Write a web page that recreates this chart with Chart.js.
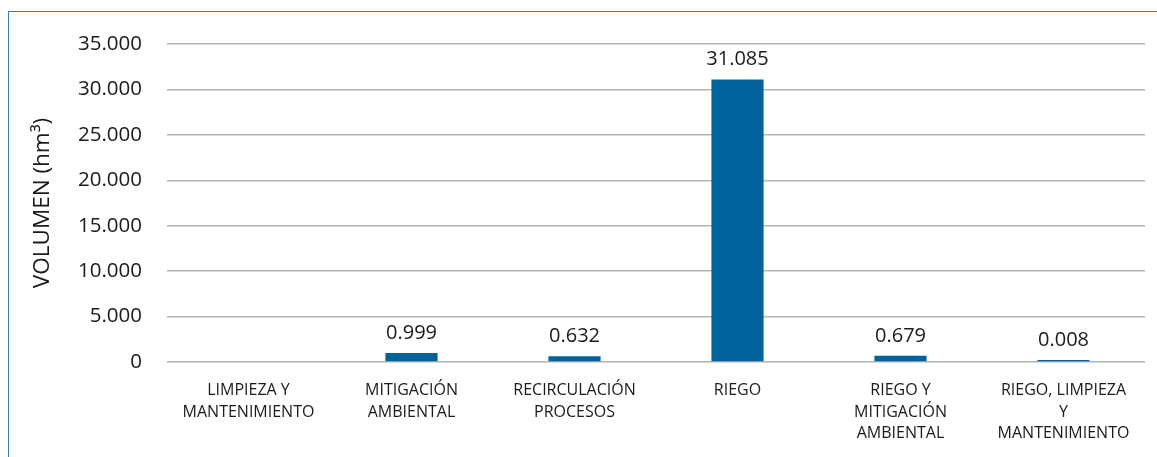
<!DOCTYPE html>
<html><head><meta charset="utf-8">
<script src="https://cdn.jsdelivr.net/npm/chart.js@4.4.0/dist/chart.umd.min.js"></script>
<style>
html,body{margin:0;padding:0;background:#fff;overflow:hidden;}
#wrap{position:absolute;left:0;top:0;width:1157px;height:457px;}
#frame{position:absolute;left:8px;top:11px;width:1200px;height:500px;border:1.5px solid #3b7db5;box-sizing:border-box;pointer-events:none;}
</style></head>
<body>
<div id="wrap"><canvas id="c" width="1157" height="457"></canvas></div>
<div id="frame"></div>
<script>
const categories = [
  ["LIMPIEZA Y","MANTENIMIENTO"],
  ["MITIGACIÓN","AMBIENTAL"],
  ["RECIRCULACIÓN","PROCESOS"],
  ["RIEGO"],
  ["RIEGO Y","MITIGACIÓN","AMBIENTAL"],
  ["RIEGO, LIMPIEZA","Y","MANTENIMIENTO"]
];
const volumes = [null, 0.999, 0.632, 31.085, 0.679, 0.008];
const valueLabels = ["", "0.999", "0.632", "31.085", "0.679", "0.008"];
const yTickLabels = {0:"0",5:"5.000",10:"10.000",15:"15.000",20:"20.000",25:"25.000",30:"30.000",35:"35.000"};
const yTitle = "VOLUMEN (hm³)";

const FONT = "'Open Sans', 'Noto Sans', sans-serif";

const labelPlugin = {
  id: 'valLabels',
  afterDatasetsDraw(chart) {
    const ctx = chart.ctx;
    const meta = chart.getDatasetMeta(0);
    ctx.save();
    ctx.font = "20px " + FONT;
    ctx.fillStyle = "#1a1a1a";
    ctx.textAlign = "center";
    ctx.textBaseline = "middle";
    meta.data.forEach((bar, i) => {
      const t = valueLabels[i];
      if (!t || bar.y == null || isNaN(bar.y)) return;
      ctx.fillText(t, bar.x, bar.y - 20);
    });
    ctx.restore();
  }
};

new Chart(document.getElementById('c'), {
  type: 'bar',
  data: {
    labels: categories,
    datasets: [{
      data: volumes,
      backgroundColor: '#00629b',
      categoryPercentage: 1,
      barPercentage: 0.32,
      minBarLength: 2
    }]
  },
  options: {
    responsive: false,
    animation: false,
    layout: { padding: { left: 0, top: 44, right: 12, bottom: 0 } },
    plugins: { legend: { display: false }, tooltip: { enabled: false } },
    scales: {
      x: {
        grid: { display: false },
        border: { display: false },
        ticks: {
          maxRotation: 0, autoSkip: false, padding: 10,
          color: '#1a1a1a',
          font: { family: FONT, size: 16, lineHeight: '21.5px' }
        },
        afterFit(s) { s.height = 95; }
      },
      y: {
        min: 0, max: 35,
        ticks: {
          stepSize: 5, padding: 25, color: '#1a1a1a',
          font: { family: FONT, size: 20.5 },
          callback: v => yTickLabels[v] ?? ''
        },
        grid: { color: '#b4b4b4', lineWidth: 1.5, drawTicks: false },
        border: { display: false },
        title: {
          display: true, text: yTitle, color: '#1a1a1a',
          font: { family: FONT, size: 22.5 },
          padding: { top: 29, bottom: 0 }
        },
        afterFit(s) { s.width = 167; }
      }
    }
  },
  plugins: [labelPlugin]
});
</script>
</body></html>
